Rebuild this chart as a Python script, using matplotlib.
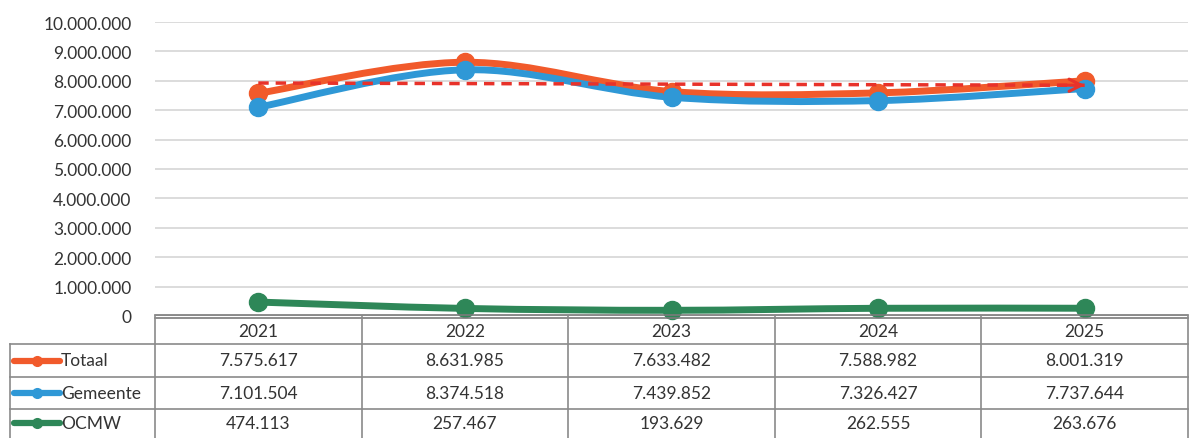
import numpy as np
import matplotlib
matplotlib.use("Agg")
import matplotlib.pyplot as plt
from matplotlib.path import Path
from matplotlib.patches import PathPatch
from matplotlib.ticker import FuncFormatter

plt.rcParams['font.family'] = ['Lato', 'DejaVu Sans']

years = ['2021', '2022', '2023', '2024', '2025']
totaal = [7575617, 8631985, 7633482, 7588982, 8001319]
gemeente = [7101504, 8374518, 7439852, 7326427, 7737644]
ocmw = [474113, 257467, 193629, 262555, 263676]

series = [('Totaal', totaal, '#f15a2b'),
          ('Gemeente', gemeente, '#2f98d6'),
          ('OCMW', ocmw, '#2e8758')]

W, H = 1190, 439
fig = plt.figure(figsize=(W / 100, H / 100), dpi=100)

# main plot area (pixel positions)
x0, x1 = 155, 1188
y_zero, y_top = 317, 23
ax = fig.add_axes([x0 / W, (H - y_zero) / H, (x1 - x0) / W, (y_zero - y_top) / H])
ax.set_xlim(-0.5, len(years) - 0.5)
ax.set_ylim(0, 10000000)
ax.set_yticks(np.arange(0, 10000001, 1000000))
ax.yaxis.set_major_formatter(FuncFormatter(lambda v, p: f'{int(v):,}'.replace(',', '.')))
ax.tick_params(axis='y', length=0, pad=17, labelsize=12.5, labelcolor='#333333')
ax.set_xticks([])
for s in ax.spines.values():
    s.set_visible(False)
ax.grid(axis='y', color='#d6d6d6', linewidth=1.2)
ax.set_axisbelow(True)


def smooth_path(xs, ys):
    # Excel-like smoothed line: Catmull-Rom converted to cubic bezier segments
    pts = np.column_stack([xs, ys]).astype(float)
    ext = np.vstack([pts[0], pts, pts[-1]])
    verts = [pts[0]]
    codes = [Path.MOVETO]
    for i in range(len(pts) - 1):
        p0, p1, p2, p3 = ext[i], ext[i + 1], ext[i + 2], ext[i + 3]
        c1 = p1 + (p2 - p0) / 6
        c2 = p2 - (p3 - p1) / 6
        verts += [c1, c2, p2]
        codes += [Path.CURVE4] * 3
    return Path(verts, codes)


xs = np.arange(len(years))
for name, vals, col in series:
    ax.add_patch(PathPatch(smooth_path(xs, vals), facecolor='none', edgecolor=col,
                           linewidth=5, capstyle='round', zorder=3, clip_on=False))
    ax.plot(xs, vals, 'o', color=col, markersize=13, zorder=4, clip_on=False)

# linear trend of Totaal
k, b = np.polyfit(xs, totaal, 1)
trend = k * xs + b
ax.plot(xs, trend, color='#e8322a', linewidth=2.5, linestyle=(0, (3, 2)), zorder=5)
ax.annotate('', xy=(xs[-1], trend[-1]), xytext=(xs[-1] - 0.12, trend[-1] - 0.12 * k),
            arrowprops=dict(arrowstyle='->', color='#e8322a', lw=2.2,
                            mutation_scale=22, shrinkA=0, shrinkB=0), zorder=5)

# data table under the chart
tax = fig.add_axes([0, 0, 1, 1])
tax.set_xlim(0, W)
tax.set_ylim(H, 0)
tax.axis('off')
tax.patch.set_alpha(0)

grid_col = '#8a8a8a'
row_y = [317, 345, 378, 410, 439]
col_x = [x0 + i * (x1 - x0) / len(years) for i in range(len(years) + 1)]
left_x = 10

# top axis line (double look)
tax.plot([x0, x1], [316, 316], color='#7a7a7a', lw=1.2)
tax.plot([x0, x1], [319, 319], color='#7a7a7a', lw=1.2)
for y in row_y[1:-1]:
    tax.plot([left_x, x1], [y, y], color=grid_col, lw=1.2)
for x in col_x:
    tax.plot([x, x], [row_y[0], H], color=grid_col, lw=1.2)
tax.plot([left_x, left_x], [row_y[1], H], color=grid_col, lw=1.2)

for i, yr in enumerate(years):
    cx = (col_x[i] + col_x[i + 1]) / 2
    tax.text(cx, (row_y[0] + row_y[1]) / 2 + 1, yr, ha='center', va='center',
             fontsize=12.5, color='#333333')
for r, (name, vals, col) in enumerate(series):
    cy = (row_y[r + 1] + row_y[r + 2]) / 2
    tax.plot([14, 60], [cy, cy], color=col, lw=4.5, solid_capstyle='round')
    tax.plot([37], [cy], 'o', color=col, markersize=7)
    tax.text(61, cy, name, ha='left', va='center', fontsize=12.5, color='#333333')
    for i, v in enumerate(vals):
        cx = (col_x[i] + col_x[i + 1]) / 2
        tax.text(cx, cy, f'{v:,}'.replace(',', '.'), ha='center', va='center',
                 fontsize=12.5, color='#333333')

fig.savefig('out.png', dpi=100)
